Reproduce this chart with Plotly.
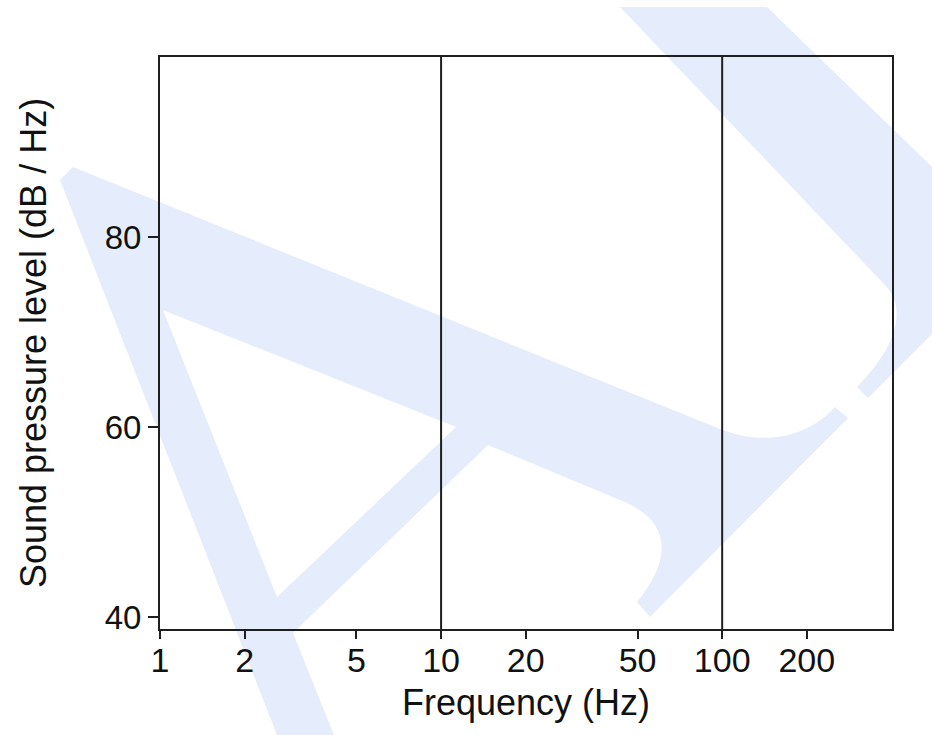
import plotly.graph_objects as go

# Axis ticks and reference frequencies
freq_ticks = [1, 2, 5, 10, 20, 50, 100, 200]
freq_labels = ["1", "2", "5", "10", "20", "50", "100", "200"]
spl_ticks = [40, 60, 80]
spl_labels = ["40", "60", "80"]
ref_freqs = [10, 100]

# Axis extents
freq_range = [1, 402]
spl_range = [38.74, 98.95]

FONT = "Liberation Sans, Arial, sans-serif"
INK = "#1f1f1f"
TEXT = "#111"
MARK_BLUE = "#e5ecfb"

W, H = 932, 735
M_L, M_R, M_T, M_B = 160, 40, 57, 106
PW, PH = W - M_L - M_R, H - M_T - M_B


def to_paper(px, py):
    return (px - M_L) / PW, (H - M_B - py) / PH


def path_from(cmds):
    # cmds: list of (command, [(px, py), ...]) in page pixels
    parts = []
    for c, pts in cmds:
        if c == "Z":
            parts.append("Z")
            continue
        coords = " ".join(
            "{:.4f},{:.4f}".format(*to_paper(x, y)) for x, y in pts
        )
        parts.append(c + " " + coords)
    return " ".join(parts)


# Background logo outlines (page pixels)
logo_left = [
    ("M", [(60, 180)]),
    ("L", [(73, 167)]),
    ("L", [(720, 429)]),
    ("C", [(760, 445), (805, 440), (835, 407)]),
    ("L", [(848, 418)]),
    ("L", [(650, 617)]),
    ("L", [(637, 602)]),
    ("C", [(668, 565), (675, 525), (627, 503)]),
    ("L", [(488, 445)]),
    ("L", [(293, 633)]),
    ("L", [(336, 740)]),
    ("L", [(279, 740)]),
    ("Z", []),
    ("M", [(163, 310)]),
    ("L", [(456, 427)]),
    ("L", [(277, 597)]),
    ("Z", []),
]
logo_right = [
    ("M", [(620, 7)]),
    ("L", [(767, 7)]),
    ("L", [(960, 194)]),
    ("L", [(960, 306)]),
    ("L", [(868, 398)]),
    ("L", [(857, 387)]),
    ("C", [(888, 356), (912, 313), (885, 285)]),
    ("Z", []),
]

fig = go.Figure()

for outline in (logo_left, logo_right):
    fig.add_shape(
        type="path",
        xref="paper",
        yref="paper",
        path=path_from(outline),
        fillcolor=MARK_BLUE,
        fillrule="evenodd",
        line=dict(width=0),
        layer="below",
    )

for f in ref_freqs:
    fig.add_vline(x=f, line=dict(color=INK, width=2), layer="above")

axis_common = dict(
    showline=True,
    linecolor=INK,
    linewidth=2,
    mirror=True,
    showgrid=False,
    zeroline=False,
    ticks="outside",
    tickcolor=INK,
    tickwidth=1.5,
)

fig.update_layout(
    width=W,
    height=H,
    margin=dict(l=M_L, r=M_R, t=M_T, b=M_B),
    paper_bgcolor="white",
    plot_bgcolor="rgba(0,0,0,0)",
    showlegend=False,
    xaxis=dict(
        type="log",
        range=[0, 2.6042],
        tickvals=freq_ticks,
        ticktext=freq_labels,
        ticklen=8,
        ticklabelstandoff=-8,
        tickfont=dict(family=FONT, size=34, color=TEXT),
        title=dict(
            text="Frequency (Hz)",
            font=dict(family=FONT, size=36, color=TEXT),
            standoff=12,
        ),
        **axis_common,
    ),
    yaxis=dict(
        range=spl_range,
        tickvals=spl_ticks,
        ticktext=spl_labels,
        ticklen=10,
        tickfont=dict(family=FONT, size=33, color=TEXT),
        title=dict(
            text="Sound pressure level (dB / Hz)",
            font=dict(family=FONT, size=36, color=TEXT),
            standoff=47,
        ),
        **axis_common,
    ),
)

fig.write_html("out.html")
